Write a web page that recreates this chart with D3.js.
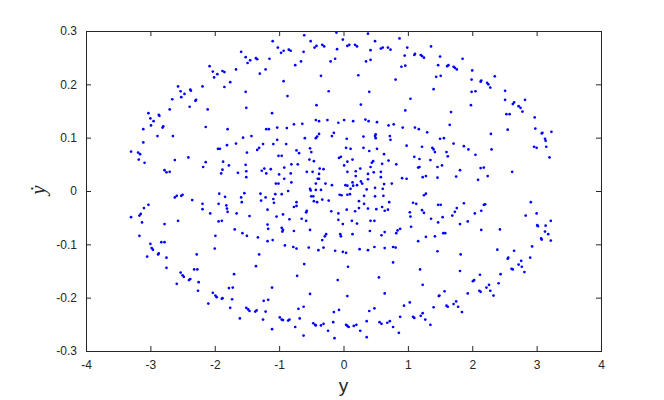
<!DOCTYPE html>
<html>
<head>
<meta charset="utf-8">
<script src="https://cdn.jsdelivr.net/npm/d3@7"></script>
<style>
  body { margin: 0; background: #fff; }
  svg text { font-family: "Liberation Sans", Arial, sans-serif; fill: #262626; }
</style>
</head>
<body>
<svg id="chart" width="664" height="400"></svg>
<script>
// [y, ydot] points
const upperLeft = [
  [-1.59, 0.261], [-1.52, 0.251], [-1.36, 0.249], [-1.34, 0.247], [-1.45, 0.245], [-1.49, 0.240],
  [-1.21, 0.228], [-1.30, 0.220], [-2.08, 0.234], [-2.03, 0.224], [-1.96, 0.219], [-1.88, 0.225],
  [-1.85, 0.223], [-2.01, 0.213], [-1.67, 0.228], [-1.76, 0.204], [-1.85, 0.195], [-2.19, 0.196],
  [-2.57, 0.196], [-2.53, 0.187], [-2.38, 0.190], [-2.37, 0.188], [-2.47, 0.182], [-2.52, 0.176],
  [-2.66, 0.172], [-2.29, 0.171], [-2.30, 0.169], [-2.39, 0.158], [-2.70, 0.153], [-2.11, 0.153],
  [-1.52, 0.186], [-1.51, 0.156], [-3.03, 0.146], [-2.87, 0.143], [-2.86, 0.141], [-3.00, 0.136],
  [-2.95, 0.131], [-2.99, 0.123], [-2.80, 0.121], [-2.81, 0.119], [-3.11, 0.116], [-2.14, 0.120],
  [-1.80, 0.116]
]
const upperMid = [
  [-0.61, 0.292], [-0.11, 0.297], [-0.01, 0.284], [0.38, 0.295], [-1.10, 0.281], [-0.51, 0.281],
  [0.49, 0.281], [0.87, 0.286], [-1.02, 0.269], [-0.97, 0.259], [-0.93, 0.263], [-0.85, 0.265],
  [-0.82, 0.263], [-0.62, 0.261], [-0.45, 0.269], [-0.42, 0.272], [-0.33, 0.274], [-0.30, 0.271],
  [-0.10, 0.266], [0.06, 0.272], [0.09, 0.274], [0.18, 0.274], [0.21, 0.271], [0.42, 0.264],
  [0.58, 0.267], [0.61, 0.269], [0.69, 0.269], [0.73, 0.265], [0.99, 0.269], [0.95, 0.254],
  [-1.15, 0.248], [-0.66, 0.243], [-0.75, 0.236], [-0.20, 0.243], [-0.13, 0.248], [0.35, 0.243],
  [0.42, 0.246], [0.90, 0.233], [0.96, 0.235], [-0.93, 0.206], [-0.35, 0.216], [0.23, 0.217],
  [0.81, 0.209], [-0.87, 0.178], [-0.23, 0.187], [0.40, 0.186], [0.27, 0.162], [-0.42, 0.161],
  [-1.11, 0.146], [0.96, 0.151], [-1.20, 0.116], [-1.16, 0.116], [-1.03, 0.119], [-0.88, 0.118],
  [-0.77, 0.125], [-0.64, 0.126], [-0.43, 0.133], [-0.38, 0.131], [-0.25, 0.133], [-0.08, 0.128],
  [0.01, 0.133], [0.15, 0.131], [0.34, 0.134], [0.39, 0.131], [0.52, 0.129], [0.70, 0.123],
  [0.78, 0.125], [0.92, 0.119], [-0.15, 0.109], [-0.38, 0.107], [0.50, 0.106]
]
const upperRight = [
  [1.36, 0.271], [1.10, 0.255], [1.11, 0.257], [1.20, 0.255], [1.22, 0.253], [1.25, 0.250],
  [1.50, 0.252], [1.85, 0.248], [1.47, 0.236], [1.61, 0.234], [1.63, 0.236], [1.71, 0.233],
  [1.73, 0.231], [1.76, 0.228], [2.00, 0.226], [1.44, 0.214], [1.51, 0.216], [1.99, 0.209],
  [2.13, 0.205], [2.14, 0.207], [2.23, 0.203], [2.25, 0.200], [2.28, 0.194], [2.35, 0.215],
  [1.40, 0.191], [1.99, 0.186], [2.05, 0.187], [1.04, 0.173], [2.51, 0.188], [2.51, 0.171],
  [2.63, 0.163], [2.65, 0.166], [2.72, 0.159], [2.75, 0.156], [2.82, 0.171], [2.78, 0.149],
  [1.67, 0.148], [1.98, 0.161], [2.53, 0.144], [2.58, 0.144], [1.65, 0.124], [1.11, 0.119],
  [1.17, 0.116], [1.30, 0.110], [2.97, 0.138], [2.55, 0.115], [2.98, 0.117], [3.08, 0.108],
  [3.09, 0.109], [3.23, 0.111], [2.29, 0.107]
]
const midLeft = [
  [-2.89, 0.103], [-2.65, 0.103], [-3.11, 0.091], [-3.30, 0.074], [-3.19, 0.072], [-3.16, 0.069],
  [-3.18, 0.059], [-3.09, 0.053], [-2.78, 0.039], [-2.75, 0.035], [-2.70, 0.036], [-2.62, 0.058],
  [-2.41, 0.063], [-2.18, 0.045], [-2.14, 0.054], [-1.95, 0.079], [-1.92, 0.079], [-1.81, 0.086],
  [-1.67, 0.089], [-1.56, 0.100], [-1.43, 0.103], [-1.50, 0.072], [-1.34, 0.077], [-1.31, 0.081],
  [-1.25, 0.088], [-1.87, 0.055], [-1.78, 0.048], [-1.52, 0.049], [-1.88, 0.040], [-1.90, 0.033],
  [-1.64, 0.034], [-1.51, 0.037], [-1.51, 0.026], [-1.27, 0.038], [-1.23, 0.042], [-1.20, 0.033],
  [-2.62, -0.012], [-2.59, -0.009], [-2.52, -0.009], [-2.50, -0.007], [-2.35, -0.017], [-2.19, -0.024],
  [-2.19, -0.034], [-2.07, -0.042], [-1.93, -0.005], [-1.84, -0.011], [-1.94, -0.024], [-1.82, -0.027],
  [-1.81, -0.033], [-1.80, -0.039], [-1.66, -0.042], [-1.54, -0.004], [-1.59, -0.012], [-1.58, -0.021],
  [-1.29, -0.005], [-1.21, -0.012], [-1.28, -0.018], [-1.46, -0.047], [-3.03, -0.026], [-3.10, -0.032],
  [-3.15, -0.043], [-3.17, -0.046], [-3.30, -0.049], [-3.13, -0.059], [-2.78, -0.062], [-2.57, -0.056],
  [-1.94, -0.057], [-1.89, -0.056], [-1.69, -0.072], [-1.57, -0.079], [-1.50, -0.084], [-1.33, -0.087],
  [-1.99, -0.084], [-3.17, -0.084], [-2.83, -0.096], [-2.78, -0.096]
]
const center = [
  [-1.03, 0.096], [-1.09, 0.088], [-0.89, 0.088], [-0.60, 0.099], [-0.43, 0.099], [-0.41, 0.102],
  [-0.18, 0.103], [0.05, 0.098], [0.31, 0.102], [0.49, 0.103], [0.50, 0.099], [0.72, 0.103],
  [0.73, 0.096], [0.98, 0.085], [-1.01, 0.066], [-0.96, 0.066], [-0.73, 0.076], [-0.69, 0.071],
  [-0.52, 0.080], [-0.50, 0.073], [-0.53, 0.059], [-0.46, 0.056], [0.04, 0.081], [0.11, 0.079],
  [0.31, 0.081], [0.40, 0.075], [0.52, 0.079], [0.63, 0.069], [-0.07, 0.062], [-0.04, 0.064],
  [0.01, 0.048], [0.06, 0.055], [0.14, 0.059], [0.44, 0.053], [0.46, 0.056], [0.42, 0.045],
  [0.60, 0.051], [0.70, 0.057], [0.82, 0.050], [-1.13, 0.041], [-0.92, 0.044], [-0.81, 0.050],
  [-0.71, 0.050], [-0.82, 0.033], [-1.00, 0.031], [-0.92, 0.023], [-0.57, 0.036], [-0.48, 0.036],
  [-0.37, 0.042], [-0.31, 0.041], [-0.38, 0.032], [-0.40, 0.023], [-0.38, 0.023], [-0.43, 0.014],
  [-0.28, 0.014], [-0.18, 0.011], [0.06, 0.036], [0.19, 0.028], [0.19, 0.037], [0.26, 0.042],
  [0.38, 0.032], [0.47, 0.035], [0.58, 0.036], [0.58, 0.026], [0.38, 0.022], [0.27, 0.018],
  [0.29, 0.014], [0.14, 0.016], [0.15, 0.010], [0.21, 0.011], [0.03, 0.011], [0.06, 0.010],
  [0.11, 0.004], [0.36, 0.003], [0.49, 0.006], [0.61, 0.004], [0.63, 0.013], [0.75, 0.014],
  [0.91, 0.024], [0.98, 0.023], [-1.05, 0.014], [-1.01, 0.014], [-0.81, 0.016], [-1.06, -0.006],
  [-0.96, -0.006], [-0.86, 0.000], [-0.52, 0.004], [-0.51, 0.001], [-0.43, 0.002], [-0.35, 0.002],
  [-0.50, -0.010], [-0.47, -0.010], [-0.46, -0.019], [-0.41, -0.021], [-0.33, -0.016], [-0.23, -0.018],
  [-0.06, -0.007], [-0.03, -0.008], [0.06, -0.007], [0.10, -0.006], [0.24, -0.019], [0.32, -0.009],
  [0.32, -0.024], [0.49, -0.010], [0.62, -0.009], [0.60, -0.030], [0.64, -0.037], [0.69, -0.035],
  [0.71, -0.021], [-1.09, -0.015], [-1.08, -0.022], [-0.73, -0.021], [-0.73, -0.028], [-0.77, -0.030],
  [-1.18, -0.035], [-0.94, -0.044], [-1.04, -0.048], [-0.57, -0.037], [-0.58, -0.040], [-0.19, -0.038],
  [0.05, -0.035], [-0.08, -0.042], [0.18, -0.038], [0.24, -0.032], [0.38, -0.033], [0.51, -0.034],
  [1.03, -0.040], [1.04, -0.048], [-0.84, -0.053], [-0.65, -0.052], [-0.58, -0.056], [-0.08, -0.054],
  [-0.01, -0.062], [0.13, -0.056], [0.21, -0.061], [0.42, -0.056], [0.48, -0.056], [-1.18, -0.063],
  [-1.17, -0.071], [-0.96, -0.069], [-0.94, -0.073], [-0.95, -0.076], [-0.77, -0.075], [-0.52, -0.073],
  [-0.05, -0.081], [-0.04, -0.085], [-0.27, -0.081], [-0.29, -0.085], [0.14, -0.081], [0.41, -0.075],
  [0.64, -0.077], [0.59, -0.083], [0.82, -0.079], [0.84, -0.074], [0.88, -0.071], [-0.33, -0.092],
  [-1.10, -0.092], [-1.18, -0.094]
]
const midRight = [
  [1.50, 0.098], [1.56, 0.099], [1.71, 0.089], [1.22, 0.083], [1.38, 0.081], [1.40, 0.078],
  [1.42, 0.073], [1.60, 0.073], [1.62, 0.065], [1.87, 0.084], [1.94, 0.078], [2.05, 0.068],
  [2.30, 0.078], [3.13, 0.098], [3.14, 0.094], [2.96, 0.083], [3.00, 0.081], [3.15, 0.083],
  [3.20, 0.063], [1.10, 0.064], [1.18, 0.060], [1.35, 0.058], [1.16, 0.044], [1.18, 0.045],
  [1.46, 0.045], [1.53, 0.048], [1.81, 0.039], [2.13, 0.043], [2.18, 0.044], [1.23, 0.026],
  [1.28, 0.028], [1.46, 0.025], [1.75, 0.027], [2.24, 0.028], [2.09, 0.021], [2.62, 0.036],
  [1.25, -0.008], [1.28, -0.005], [1.08, -0.022], [1.13, -0.024], [1.47, -0.026], [1.51, -0.026],
  [1.87, -0.023], [2.18, -0.026], [2.20, -0.025], [1.76, -0.032], [1.73, -0.039], [1.69, -0.046],
  [1.54, -0.049], [2.04, -0.042], [2.14, -0.037], [1.22, -0.036], [1.25, -0.041], [1.36, -0.052],
  [1.47, -0.059], [1.05, -0.067], [1.81, -0.062], [1.93, -0.057], [2.14, -0.073], [2.43, -0.072],
  [1.55, -0.079], [1.58, -0.079], [1.28, -0.086], [1.42, -0.085], [1.16, -0.094], [2.91, -0.021],
  [2.83, -0.046], [3.00, -0.042], [3.01, -0.064], [3.02, -0.066], [3.14, -0.065], [3.22, -0.056],
  [3.13, -0.076], [3.18, -0.081], [3.07, -0.089], [3.08, -0.091], [3.22, -0.093]
]
const lowerLeft = [
  [-3.00, -0.099], [-2.98, -0.107], [-2.96, -0.110], [-3.05, -0.123], [-2.88, -0.119], [-2.87, -0.117],
  [-2.75, -0.125], [-2.75, -0.144], [-2.53, -0.153], [-2.50, -0.158], [-2.48, -0.161], [-2.59, -0.174],
  [-2.40, -0.167], [-2.38, -0.165], [-2.28, -0.119], [-2.00, -0.108], [-2.32, -0.147], [-2.27, -0.147],
  [-2.25, -0.171], [-2.26, -0.187], [-2.10, -0.211], [-2.03, -0.191], [-1.99, -0.196], [-1.97, -0.199],
  [-1.89, -0.202], [-1.88, -0.201], [-1.70, -0.156], [-1.78, -0.182], [-1.72, -0.181], [-1.73, -0.203],
  [-1.76, -0.219], [-1.61, -0.239], [-1.51, -0.219], [-1.48, -0.222], [-1.46, -0.225], [-1.37, -0.226],
  [-1.35, -0.224], [-1.25, -0.241], [-1.24, -0.206], [-1.36, -0.141], [-1.31, -0.119]
]
const lowerMid = [
  [-0.91, -0.102], [-0.78, -0.105], [-0.73, -0.108], [-0.54, -0.106], [-0.39, -0.111], [-0.31, -0.106],
  [-0.13, -0.112], [-0.01, -0.114], [0.04, -0.116], [0.25, -0.109], [0.38, -0.111], [0.48, -0.105],
  [0.64, -0.107], [0.77, -0.105], [0.81, -0.106], [-0.61, -0.137], [0.07, -0.142], [0.77, -0.134],
  [-0.72, -0.159], [-0.09, -0.167], [0.55, -0.162], [-1.11, -0.181], [-1.17, -0.204], [-0.52, -0.193],
  [0.06, -0.197], [0.64, -0.192], [-1.21, -0.226], [-0.70, -0.221], [-0.62, -0.217], [-0.15, -0.227],
  [-0.07, -0.223], [0.40, -0.225], [0.48, -0.220], [0.94, -0.215], [1.03, -0.209], [0.88, -0.236],
  [-1.11, -0.259], [-0.99, -0.237], [-0.96, -0.241], [-0.94, -0.242], [-0.86, -0.243], [-0.84, -0.241],
  [-0.68, -0.239], [-0.75, -0.255], [-0.62, -0.271], [-0.47, -0.248], [-0.44, -0.251], [-0.43, -0.252],
  [-0.35, -0.252], [-0.31, -0.249], [-0.24, -0.262], [-0.16, -0.246], [-0.14, -0.276], [0.04, -0.251],
  [0.06, -0.253], [0.08, -0.255], [0.16, -0.253], [0.20, -0.251], [0.26, -0.262], [0.36, -0.244],
  [0.36, -0.274], [0.56, -0.246], [0.59, -0.249], [0.68, -0.247], [0.72, -0.244], [0.77, -0.255],
  [0.86, -0.266]
]
const lowerRight = [
  [1.46, -0.113], [1.82, -0.119], [2.39, -0.110], [2.65, -0.112], [2.93, -0.104], [1.19, -0.147],
  [1.81, -0.150], [2.12, -0.157], [2.55, -0.127], [2.56, -0.125], [2.76, -0.131], [2.72, -0.138],
  [2.77, -0.142], [2.61, -0.146], [2.63, -0.147], [2.81, -0.152], [2.90, -0.125], [2.44, -0.156],
  [1.23, -0.176], [1.57, -0.188], [1.48, -0.197], [1.49, -0.196], [1.93, -0.192], [2.03, -0.167],
  [2.01, -0.169], [2.11, -0.187], [2.13, -0.189], [2.22, -0.181], [2.26, -0.176], [2.28, -0.187],
  [2.33, -0.196], [2.41, -0.173], [1.40, -0.218], [1.60, -0.215], [1.62, -0.217], [1.71, -0.212],
  [1.75, -0.207], [1.78, -0.217], [1.84, -0.227], [1.08, -0.236], [1.10, -0.238], [1.20, -0.234],
  [1.23, -0.229], [1.27, -0.241], [1.35, -0.251]
]

const xTicks = [-4, -3, -2, -1, 0, 1, 2, 3, 4]
const yTicks = [-0.3, -0.2, -0.1, 0, 0.1, 0.2, 0.3]
const xLabel = 'y'
const yLabel = 'ẏ'

const points = [].concat(upperLeft, upperMid, upperRight, midLeft, center,
  midRight, lowerLeft, lowerMid, lowerRight)

const margin = { top: 31, right: 63, bottom: 49, left: 86 }
const svg = d3.select('#chart')
const width = +svg.attr('width') - margin.left - margin.right
const height = +svg.attr('height') - margin.top - margin.bottom
const axisColor = '#262626'

const x = d3.scaleLinear().domain([-4, 4]).range([0, width])
const y = d3.scaleLinear().domain([-0.3, 0.3]).range([height, 0])

// plain hyphen minus, "0" without decimals
const xFormat = (d) => String(d)
const yFormat = (d) => (d === 0 ? '0' : d3.format('.1f')(d).replace('−', '-'))

const g = svg.append('g').attr('transform', `translate(${margin.left}, ${margin.top})`)

// dots first, the box is drawn over them
g.append('g').selectAll('circle').data(points).join('circle')
  .attr('cx', (d) => x(d[0]))
  .attr('cy', (d) => y(d[1]))
  .attr('r', 1.35)
  .attr('fill', '#0000ff')

const styleAxis = (sel, showLabels) => {
  sel.select('.domain').remove()
  sel.selectAll('line').attr('stroke', axisColor)
  sel.selectAll('text')
    .style('font-size', '12px')
    .attr('fill', axisColor)
    .style('display', showLabels ? null : 'none')
}

g.append('g').attr('transform', `translate(0, ${height})`)
  .call(d3.axisBottom(x).tickValues(xTicks).tickSize(-5).tickPadding(9).tickFormat(xFormat))
  .call((s) => styleAxis(s, true))
g.append('g')
  .call(d3.axisTop(x).tickValues(xTicks).tickSize(-5))
  .call((s) => styleAxis(s, false))
g.append('g')
  .call(d3.axisLeft(y).tickValues(yTicks).tickSize(-5).tickPadding(9).tickFormat(yFormat))
  .call((s) => styleAxis(s, true))
g.append('g').attr('transform', `translate(${width}, 0)`)
  .call(d3.axisRight(y).tickValues(yTicks).tickSize(-5))
  .call((s) => styleAxis(s, false))

g.append('rect').attr('width', width).attr('height', height)
  .attr('fill', 'none').attr('stroke', axisColor).attr('stroke-width', 1)
  .attr('shape-rendering', 'crispEdges')

svg.append('text')
  .attr('x', margin.left + width / 2).attr('y', 392)
  .attr('text-anchor', 'middle')
  .style('font-size', '19px')
  .text(xLabel)

// rotated label, as in the source figure
svg.append('text')
  .attr('transform', 'translate(45, 190) rotate(-90)')
  .attr('text-anchor', 'middle')
  .style('font-family', '"Liberation Serif", "DejaVu Serif", serif')
  .style('font-size', '21px')
  .style('font-style', 'italic')
  .text(yLabel)
</script>
</body>
</html>
